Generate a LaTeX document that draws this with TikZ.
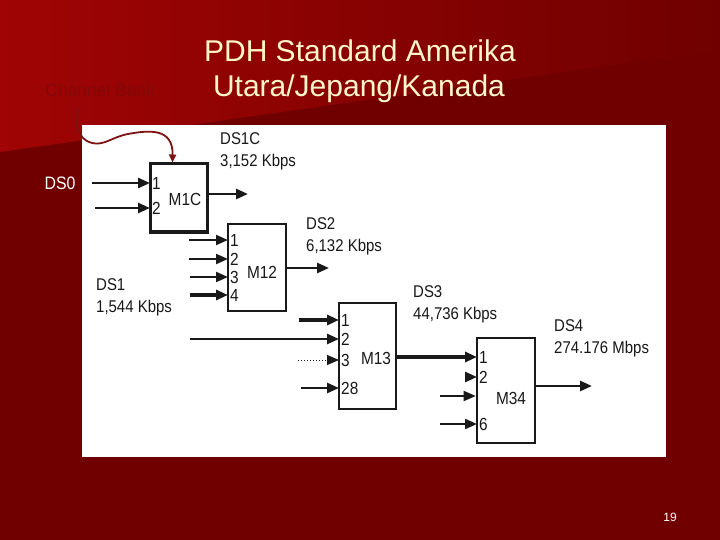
\documentclass[tikz,border=0pt]{standalone}
\usepackage{fontspec}
\setmainfont{Liberation Sans}
\newfontfamily\narrowsans[FakeStretch=0.88]{Liberation Sans}
\usepackage{xcolor}
\usepackage{tikz}
\usetikzlibrary{arrows.meta, calc}

\definecolor{slidered}{RGB}{112,0,0}
\definecolor{slidelight}{RGB}{160,4,4}
\definecolor{titlecream}{RGB}{255,246,204}
\definecolor{bankred}{RGB}{132,8,8}
\definecolor{curvered}{RGB}{125,18,18}
\definecolor{inkgray}{RGB}{24,24,24}

\begin{document}
\begin{tikzpicture}[x=1pt, y=-1pt,
  mux/.style={rectangle, draw=black!90, line width=2pt, inner sep=0pt},
  muxname/.style={inner sep=0pt, font=\narrowsans\fontsize{17.5}{20}\selectfont, text=inkgray},
  port/.style={anchor=west, inner sep=2pt, font=\narrowsans\fontsize{17.5}{20}\selectfont, text=inkgray},
  rate/.style={anchor=north west, inner sep=0pt, align=left, font=\narrowsans\fontsize{17}{22}\selectfont, text=inkgray},
  title/.style={anchor=base, inner sep=0pt, font=\fontsize{30}{34}\selectfont, text=titlecream},
  sig/.style={-{Triangle[length=12pt, width=10pt]}, line width=2.6pt, black!90},
  heavysig/.style={sig, line width=3.6pt},
  lightsig/.style={sig, line width=2pt},
  dotsig/.style={sig, line width=1pt, dotted},
  bankline/.style={-{Triangle[length=8pt, width=7pt]}, line width=1.8pt, curvered}
]
\useasboundingbox (0,0) rectangle (720,540);
\fill[slidered] (0,0) rectangle (720,540);
\shade[left color=slidelight, right color=slidered] (0,0) -- (720,0) -- (720,50) -- (0,152) -- cycle;
\fill[white] (82,125) rectangle (666,457);

\node[title] (title1) at (360,62) {PDH Standard Amerika};
\node[title] (title2) at (359,97) {Utara/Jepang/Kanada};
\node[anchor=base west, inner sep=0pt, font=\fontsize{17.5}{20}\selectfont, text=bankred] (cbank) at (45,97) {Channel Bank};
\node[text=white, font=\narrowsans\fontsize{18}{20}\selectfont] (ds0) at (60,183) {DS0};
\node[text=white, font=\fontsize{12}{14}\selectfont] (pagenum) at (670,517) {19};

\node[mux, line width=3pt, minimum width=57pt, minimum height=68pt] (m1c) at (178.5,198) {};
\node[mux, line width=1.6pt, minimum width=58pt, minimum height=87pt] (m12) at (257,267.5) {};
\node[mux, minimum width=57pt, minimum height=106pt] (m13) at (367.5,356) {};
\node[mux, line width=2.6pt, minimum width=58pt, minimum height=105pt] (m34) at (506,390.5) {};

\node[muxname] (m1c-name) at (185,199) {M1C};
\node[muxname] (m12-name) at (262,272) {M12};
\node[muxname] (m13-name) at (376,358) {M13};
\node[muxname] (m34-name) at (511,398) {M34};

\node[port] (m1c-p1) at (150,183) {1};
\node[port] (m1c-p2) at (150,208) {2};
\node[port] (m12-p1) at (228,240) {1};
\node[port] (m12-p2) at (228,259) {2};
\node[port] (m12-p3) at (228,277) {3};
\node[port] (m12-p4) at (228,295) {4};
\node[port] (m13-p1) at (339,320) {1};
\node[port] (m13-p2) at (339,339) {2};
\node[port] (m13-p3) at (339,360) {3};
\node[port] (m13-p28) at (339,388) {28};
\node[port] (m34-p1) at (477,357) {1};
\node[port] (m34-p2) at (477,377) {2};
\node[port] (m34-p6) at (477,424) {6};

\node[rate] (ds1c) at (220,132) {DS1C\\3,152 Kbps};
\node[rate] (ds2) at (306,217) {DS2\\6,132 Kbps};
\node[rate] (ds1) at (96,278) {DS1\\1,544 Kbps};
\node[rate] (ds3) at (413,285) {DS3\\44,736 Kbps};
\node[rate] (ds4) at (554,319) {DS4\\274.176 Mbps};

\coordinate (m1c-in1) at (92,183);
\coordinate (m1c-in2) at (95,208);
\coordinate (m1c-out) at (248,194);
\coordinate (m12-in1) at (189,240);
\coordinate (m12-in2) at (189,259);
\coordinate (m12-in3) at (190,277);
\coordinate (m12-in4) at (190,295);
\coordinate (m12-out) at (329,268);
\coordinate (m13-in1) at (299,320);
\coordinate (m13-in2) at (190,339);
\coordinate (m13-in3) at (298,360);
\coordinate (m13-in28) at (301,388);
\coordinate (m34-in2) at (466,377);
\coordinate (m34-in3) at (440,396);
\coordinate (m34-in6) at (440,424);
\coordinate (m34-out) at (592,386);
\coordinate (cbank-tail) at (80,107);

\draw[sig] (m1c-in1) -- (m1c-p1.west);
\draw[sig] (m1c-in2) -- (m1c-p2.west);
\draw[sig] (m1c.east |- m1c-out) -- (m1c-out);

\draw[lightsig] (m12-in1) -- (m12-p1.west);
\draw[lightsig] (m12-in2) -- (m12-p2.west);
\draw[lightsig] (m12-in3) -- (m12-p3.west);
\draw[heavysig] (m12-in4) -- (m12-p4.west);
\draw[sig] (m12.east |- m12-out) -- (m12-out);

\draw[heavysig] (m13-in1) -- (m13-p1.west);
\draw[sig] (m13-in2) -- (m13-p2.west);
\draw[dotsig] (m13-in3) -- (m13-p3.west);
\draw[sig] (m13-in28) -- (m13-p28.west);
\draw[heavysig] (m13.east |- m34-p1) -- (m34-p1.west);

\draw[sig] (m34-in2) -- (m34-p2.west);
\draw[lightsig] (m34-in3) -- (m34.west |- m34-in3);
\draw[lightsig] (m34-in6) -- (m34-p6.west);
\draw[sig] (m34.east |- m34-out) -- (m34-out);

\draw[bankline] (cbank-tail) .. controls (73,122) and (78,140) .. (92,143) .. controls (104,146) and (112,137) .. (128,134) .. controls (150,130) and (173,128) .. ($(m1c.north west)!0.4!(m1c.north east)$);
\end{tikzpicture}
\end{document}
